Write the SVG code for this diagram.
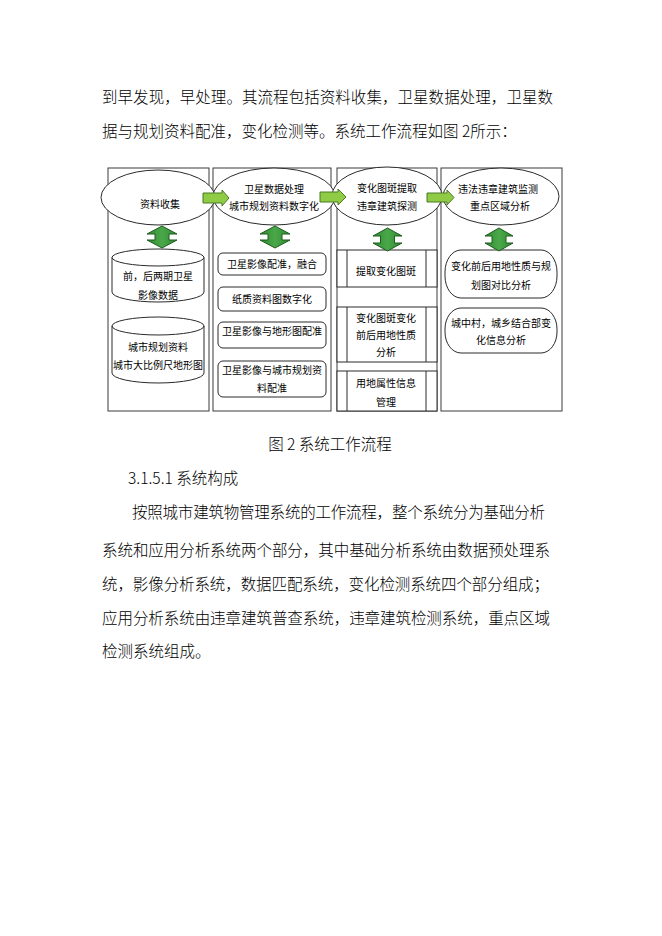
<svg xmlns="http://www.w3.org/2000/svg" width="662" height="936" viewBox="0 0 662 936">
<defs>
<style>
.body{font-family:"Noto Sans CJK SC","Liberation Sans",sans-serif;font-size:15.5px;font-weight:300;fill:#000}
.t{font-family:"Noto Sans CJK SC","Liberation Sans",sans-serif;font-size:10px;fill:#000;text-anchor:middle}
.frame{fill:#fff;stroke:#3a3a3a;stroke-width:1}
.shape{fill:#fff;stroke:#2a2a2a;stroke-width:1}
.rarrow{fill:#8fcb45;stroke:#4a7a22;stroke-width:1}
.varrow{fill:url(#vg);stroke:#1f5a1f;stroke-width:1}
.ln{stroke:#2a2a2a;stroke-width:1;fill:none}
</style>
<linearGradient id="vg" x1="0" y1="0" x2="1" y2="0">
<stop offset="0" stop-color="#2f8a2f"/>
<stop offset="0.5" stop-color="#4aa84a"/>
<stop offset="1" stop-color="#2f8a2f"/>
</linearGradient>
</defs>
<rect width="662" height="936" fill="#fff"/>

<g id="body-text">
<text class="body" x="102" y="103" textLength="451" lengthAdjust="spacing">到早发现，早处理。其流程包括资料收集，卫星数据处理，卫星数</text>
<text class="body" x="102" y="137">据与规划资料配准，变化检测等。系统工作流程如图 2所示：</text>
<text class="body" x="330" y="450" text-anchor="middle">图 2 系统工作流程</text>
<text class="body" x="128" y="484">3.1.5.1 系统构成</text>
<text class="body" x="132" y="518" textLength="413" lengthAdjust="spacing">按照城市建筑物管理系统的工作流程，整个系统分为基础分析</text>
<text class="body" x="102" y="556" textLength="448" lengthAdjust="spacing">系统和应用分析系统两个部分，其中基础分析系统由数据预处理系</text>
<text class="body" x="102" y="590" textLength="447" lengthAdjust="spacing">统，影像分析系统，数据匹配系统，变化检测系统四个部分组成；</text>
<text class="body" x="102" y="624" textLength="448" lengthAdjust="spacing">应用分析系统由违章建筑普查系统，违章建筑检测系统，重点区域</text>
<text class="body" x="102" y="657">检测系统组成。</text>
</g>

<g id="columns">
<rect id="col1" class="frame" x="108" y="168" width="101" height="243"/>
<rect id="col2" class="frame" x="213" y="168" width="118" height="243"/>
<rect id="col3" class="frame" x="337" y="168" width="100" height="243"/>
<rect id="col4" class="frame" x="441" y="168" width="121" height="243"/>
</g>

<g id="col1-nodes">
<g id="cyl1">
<path class="shape" d="M112,257.5 A46,8.5 0 0 1 204,257.5 L204,292 A46,10 0 0 1 112,292 Z"/>
<path class="ln" d="M112,257.5 A46,8.5 0 0 0 204,257.5"/>
<text class="t" x="158" y="279.5">前，后两期卫星</text>
<text class="t" x="158" y="298.5">影像数据</text>
</g>
<g id="cyl2">
<path class="shape" d="M112,326 A46,9 0 0 1 204,326 L204,373 A46,10 0 0 1 112,373 Z"/>
<path class="ln" d="M112,326 A46,9 0 0 0 204,326"/>
<text class="t" x="158" y="350.5">城市规划资料</text>
<text class="t" x="158" y="368.5">城市大比例尺地形图</text>
</g>
</g>

<g id="col2-nodes">
<g id="r1"><rect class="shape" x="218" y="253" width="108" height="22" rx="5"/><text class="t" x="272" y="267.5">卫星影像配准，融合</text></g>
<g id="r2"><rect class="shape" x="218" y="287" width="108" height="24" rx="5"/><text class="t" x="272" y="302.5">纸质资料图数字化</text></g>
<g id="r3"><rect class="shape" x="218" y="322" width="108" height="26" rx="5"/><text class="t" x="272" y="335">卫星影像与地形图配准</text></g>
<g id="r4"><rect class="shape" x="218" y="361" width="108" height="36" rx="5"/><text class="t" x="272" y="373.5">卫星影像与城市规划资</text><text class="t" x="272" y="391.5">料配准</text></g>
</g>

<g id="col3-nodes">
<g id="p1"><rect class="shape" x="337" y="250" width="100" height="37"/><line class="ln" x1="347" y1="250" x2="347" y2="287"/><line class="ln" x1="426" y1="250" x2="426" y2="287"/><text class="t" x="386" y="274.5">提取变化图斑</text></g>
<g id="p2"><rect class="shape" x="337" y="307" width="100" height="55"/><line class="ln" x1="347" y1="307" x2="347" y2="362"/><line class="ln" x1="426" y1="307" x2="426" y2="362"/><text class="t" x="386" y="321.5">变化图斑变化</text><text class="t" x="386" y="338.5">前后用地性质</text><text class="t" x="386" y="355.5">分析</text></g>
<g id="p3"><rect class="shape" x="337" y="371" width="100" height="40"/><line class="ln" x1="347" y1="371" x2="347" y2="411"/><line class="ln" x1="426" y1="371" x2="426" y2="411"/><text class="t" x="386" y="386.5">用地属性信息</text><text class="t" x="386" y="405.5">管理</text></g>
</g>

<g id="col4-nodes">
<g id="s1"><rect class="shape" x="445" y="250" width="112" height="48" rx="16" ry="22"/><text class="t" x="501" y="269.5">变化前后用地性质与规</text><text class="t" x="501" y="288.5">划图对比分析</text></g>
<g id="s2"><rect class="shape" x="445" y="308" width="112" height="45" rx="16" ry="21"/><text class="t" x="501" y="326.5">城中村，城乡结合部变</text><text class="t" x="501" y="343.5">化信息分析</text></g>
</g>

<g id="ellipses">
<g id="e1"><ellipse class="shape" cx="158" cy="197.5" rx="57" ry="27.5"/><text class="t" x="160" y="207.5">资料收集</text></g>
<g id="e2"><ellipse class="shape" cx="274" cy="196.5" rx="61" ry="28.5"/><text class="t" x="274" y="192.5">卫星数据处理</text><text class="t" x="274" y="209.5">城市规划资料数字化</text></g>
<g id="e3"><ellipse class="shape" cx="387" cy="196" rx="55" ry="29"/><text class="t" x="387" y="191.5">变化图斑提取</text><text class="t" x="387" y="209.5">违章建筑探测</text></g>
<g id="e4"><ellipse class="shape" cx="501" cy="196.5" rx="58" ry="28.5"/><text class="t" x="498" y="192.5">违法违章建筑监测</text><text class="t" x="500" y="209.5">重点区域分析</text></g>
</g>

<g id="connectors">
<path class="rarrow" d="M203,193 L222,193 L222,190 L229,198 L222,206 L222,203 L203,203 Z"/>
<path class="rarrow" d="M320,192 L338,192 L338,189 L346,197 L338,205 L338,202 L320,202 Z"/>
<path class="rarrow" d="M427,193 L447,193 L447,190 L454,197.5 L447,205 L447,202 L427,202 Z"/>
<path class="varrow" d="M162,226 L177,234 L169,234 L169,240 L177,240 L162,248 L147,240 L155,240 L155,234 L147,234 Z"/>
<path class="varrow" d="M275,226 L290,234 L282,234 L282,240 L290,240 L275,248 L260,240 L268,240 L268,234 L260,234 Z"/>
<path class="varrow" d="M387.5,228 L402,236 L394.5,236 L394.5,243 L402,243 L387.5,251 L373,243 L380.5,243 L380.5,236 L373,236 Z"/>
<path class="varrow" d="M499,228 L513,236 L506,236 L506,243 L513,243 L499,251 L485,243 L492,243 L492,236 L485,236 Z"/>
</g>
</svg>
